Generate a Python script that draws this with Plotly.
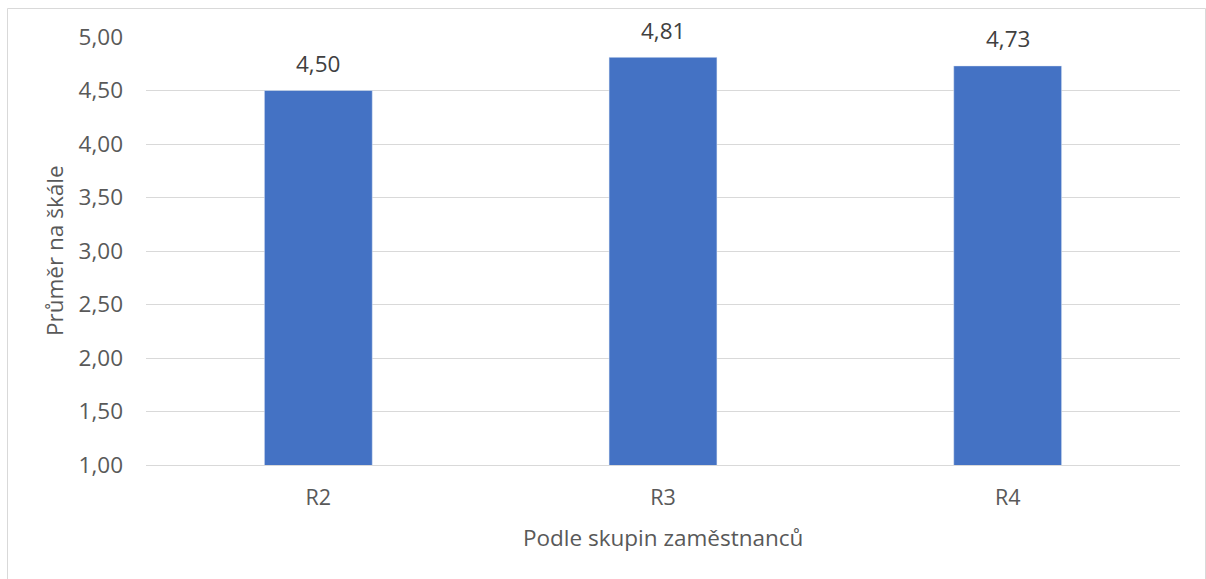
import plotly.graph_objects as go

categories = ["R2", "R3", "R4"]
values = [4.50, 4.81, 4.73]
y_ticks = [1.0, 1.5, 2.0, 2.5, 3.0, 3.5, 4.0, 4.5, 5.0]
x_title = "Podle skupin zaměstnanců"
y_title = "Průměr na škále"

FONT = "Open Sans"
W, H = 1206, 579
L, R, T, B = 146, 26, 37, 114
pw, ph = W - L - R, H - T - B

def px_x(p):
    return (p - L) / pw

def px_y(p):
    return (H - B - p) / ph

fig = go.Figure()
fig.add_trace(go.Bar(
    x=categories, y=values, marker_color="#4472C4", width=0.313,
    hoverinfo="skip",
))

annotations = []
for c, v in zip(categories, values):
    annotations.append(dict(
        x=c, y=v, xref="x", yref="y", text=f"{v:.2f}".replace(".", ","),
        showarrow=False, yanchor="middle", yshift=27,
        font=dict(family=FONT, size=22.5, color="#404040"),
    ))
annotations.append(dict(
    x=0.5, y=px_y(537), xref="paper", yref="paper", text=x_title,
    showarrow=False, xanchor="center", yanchor="middle",
    font=dict(family=FONT, size=22.5, color="#595959"),
))
annotations.append(dict(
    x=px_x(54), y=0.5, xref="paper", yref="paper", text=y_title,
    showarrow=False, xanchor="center", yanchor="middle", textangle=-90,
    font=dict(family=FONT, size=22.5, color="#595959"),
))

fig.update_layout(
    width=W, height=H,
    margin=dict(l=L, r=R, t=T, b=B, pad=0),
    paper_bgcolor="white", plot_bgcolor="white",
    separators=", ",
    showlegend=False,
    annotations=annotations,
    shapes=[dict(type="rect", xref="paper", yref="paper",
                 x0=px_x(7.5), x1=px_x(1205.5), y0=px_y(600), y1=px_y(8.5),
                 line=dict(color="#d9d9d9", width=1), fillcolor="rgba(0,0,0,0)",
                 layer="below")],
    font=dict(family=FONT, size=20, color="#595959"),
)
fig.update_yaxes(
    range=[1, 5], tickvals=y_ticks, tickformat=".2f",
    showgrid=True, gridcolor="#d9d9d9", gridwidth=1,
    zeroline=False, showline=False, ticks="",
    ticklabelstandoff=22,
    tickfont=dict(family=FONT, size=22.5, color="#595959"),
)
fig.update_xaxes(
    showgrid=False, zeroline=False, showline=True, linecolor="#d9d9d9",
    ticks="", ticklabelstandoff=13,
    tickfont=dict(family=FONT, size=21.5, color="#595959"),
)
fig.write_html("out.html")
